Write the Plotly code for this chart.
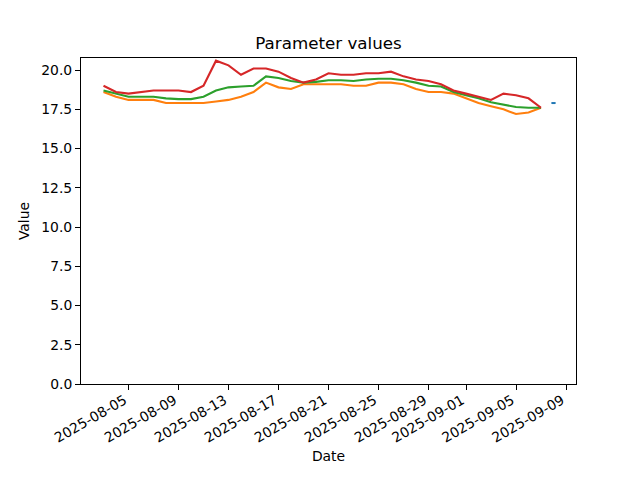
import plotly.graph_objects as go
import pandas as pd

dates = pd.date_range("2025-08-03", "2025-09-07", freq="D").strftime("%Y-%m-%d").tolist()

red = [19.0, 18.6, 18.5, 18.6, 18.7, 18.7, 18.7, 18.6, 19.0, 20.6, 20.3, 19.7,
       20.1, 20.1, 19.9, 19.5, 19.2, 19.4, 19.8, 19.7, 19.7, 19.8, 19.8, 19.9,
       19.6, 19.4, 19.3, 19.1, 18.7, 18.5, 18.3, 18.1, 18.5, 18.4, 18.2, 17.6]
green = [18.7, 18.5, 18.3, 18.3, 18.3, 18.2, 18.15, 18.15, 18.3, 18.7, 18.9, 18.95,
         19.0, 19.6, 19.5, 19.3, 19.2, 19.25, 19.35, 19.35, 19.3, 19.4, 19.45, 19.45,
         19.35, 19.2, 19.0, 18.95, 18.6, 18.4, 18.2, 17.95, 17.8, 17.65, 17.6, 17.6]
orange = [18.6, 18.3, 18.1, 18.1, 18.1, 17.9, 17.9, 17.9, 17.9, 18.0, 18.1, 18.3,
          18.6, 19.2, 18.9, 18.8, 19.1, 19.1, 19.1, 19.1, 19.0, 19.0, 19.2, 19.2,
          19.1, 18.8, 18.6, 18.6, 18.5, 18.2, 17.9, 17.7, 17.5, 17.2, 17.3, 17.6]
blue_dates = ["2025-09-08"]
blue = [17.9]

tick_dates = ["2025-08-05", "2025-08-09", "2025-08-13", "2025-08-17", "2025-08-21",
              "2025-08-25", "2025-08-29", "2025-09-01", "2025-09-05", "2025-09-09"]

fig = go.Figure()
fig.add_trace(go.Scatter(x=blue_dates, y=blue, mode="markers",
                         marker=dict(symbol="line-ew", size=3, color="#1f77b4",
                                     line=dict(width=2, color="#1f77b4")),
                         showlegend=False))
fig.add_trace(go.Scatter(x=dates, y=orange, mode="lines",
                         line=dict(color="#ff7f0e", width=2.1), showlegend=False))
fig.add_trace(go.Scatter(x=dates, y=green, mode="lines",
                         line=dict(color="#2ca02c", width=2.1), showlegend=False))
fig.add_trace(go.Scatter(x=dates, y=red, mode="lines",
                         line=dict(color="#d62728", width=2.1), showlegend=False))

axis_common = dict(showgrid=False, zeroline=False, showline=True, linecolor="black",
                   linewidth=1, mirror=True, ticks="outside", ticklen=5,
                   tickcolor="black", tickfont=dict(size=13.9, color="black"))

fig.update_layout(
    width=640, height=480,
    margin=dict(l=73, r=72, t=50, b=104, autoexpand=False),
    paper_bgcolor="white", plot_bgcolor="white",
    font=dict(family="DejaVu Sans", size=13.9, color="black"),
    title=dict(text="Parameter values", x=0.5, xanchor="center", xref="paper",
               y=1 - 35 / 480, yanchor="middle", font=dict(size=16.7)),
    xaxis=dict(**axis_common, type="date",
               range=["2025-08-01 04:48", "2025-09-09 19:12"],
               tickvals=tick_dates, ticktext=tick_dates, tickangle=-30,
               ticklabelshift=-4, ticklabelstandoff=-3,
               title=dict(text="Date", standoff=6, font=dict(size=13.9))),
    yaxis=dict(**axis_common, range=[0, 20.77], tick0=0, dtick=2.5,
               tickformat=".1f", title=dict(text="Value", standoff=8, font=dict(size=13.9))),
)

fig.write_html("out.html")
